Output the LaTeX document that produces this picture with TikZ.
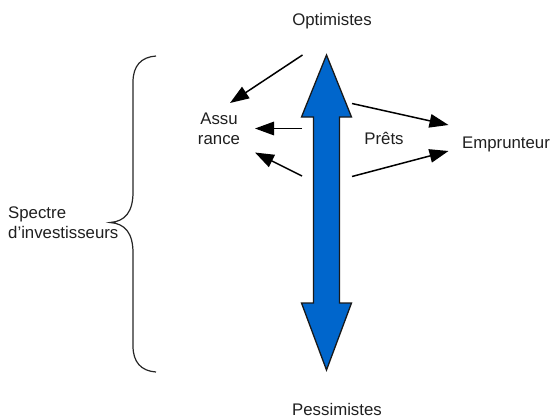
\documentclass[tikz,border=0pt]{standalone}
\usepackage{fontspec}
\setmainfont{Liberation Sans}
\usetikzlibrary{arrows.meta}
\begin{document}
\begin{tikzpicture}[x=1pt,y=-1pt,
  lbl/.style={font=\fontsize{16.8}{20}\selectfont, text=black!88, inner sep=0pt, align=center},
  arr/.style={line width=1.5pt, -{Triangle[length=19pt,width=13.5pt]}},
  brace/.style={line width=1.2pt, draw=black!85}]
\useasboundingbox (0,0) rectangle (551,418);
% big double arrow
\draw[fill={rgb,255:red,0;green,102;blue,204}, draw=black!90, line width=1.3pt, line join=miter]
  (326.5,55) -- (351.5,117) -- (339.5,117) -- (339.5,303) -- (351.5,303) -- (326.5,370)
  -- (301.5,303) -- (313.5,303) -- (313.5,117) -- (301.5,117) -- cycle;
% labels
\node[lbl] (opt) at (332,21) {Optimistes};
\node[lbl] (pes) at (337,409) {Pessimistes};
\node[lbl] (ass) at (219,129) {Assu\\rance};
\node[lbl] (emp) at (506,144) {Emprunteur};
\node[lbl] (pre) at (384,138) {Prêts};
\node[lbl, align=left, anchor=west] (spe) at (8,223) {Spectre\\d'investisseurs};
% coordinates for connectors
\coordinate (a1s) at (302.5,55);
\coordinate (a1e) at (230,103);
\coordinate (a2s) at (302,128.5);
\coordinate (a2e) at (255,128.5);
\coordinate (a3s) at (302,176);
\coordinate (a3e) at (255,152.5);
\coordinate (a4s) at (352,103.5);
\coordinate (a4e) at (448.5,125);
\coordinate (a5s) at (352,176.5);
\coordinate (a5e) at (448.5,151);
\draw[arr] (a1s) -- (a1e);
\draw[arr] (a2s) -- (a2e);
\draw[arr] (a3s) -- (a3e);
\draw[arr] (a4s) -- (a4e);
\draw[arr] (a5s) -- (a5e);
% brace
\coordinate (btop) at (156,56);
\coordinate (btip) at (110,222.5);
\coordinate (bbot) at (156,372);
\draw[brace] (btop) .. controls (141,57) and (133,66) .. (133,82)
  -- (133,192) .. controls (133,212) and (125,221.5) .. (btip)
  .. controls (125,223.5) and (133,233) .. (133,253)
  -- (133,346) .. controls (133,362) and (141,371) .. (bbot);
\end{tikzpicture}
\end{document}
